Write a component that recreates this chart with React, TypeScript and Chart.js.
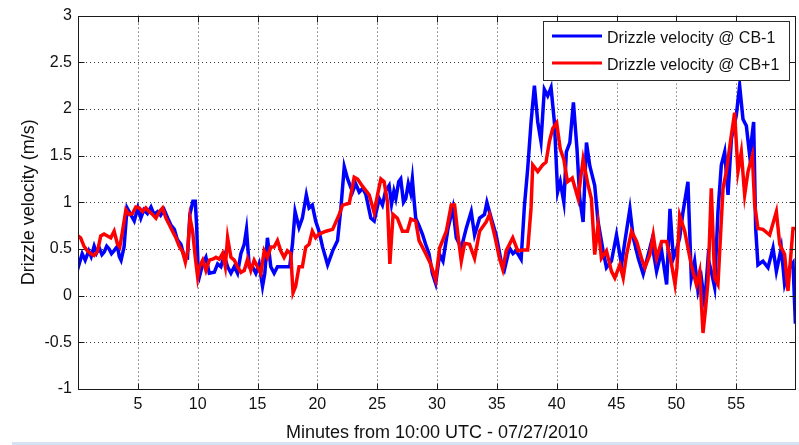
import React, { useEffect, useRef } from "react";
import { Chart, registerables } from "chart.js";

Chart.register(...registerables);

const seriesLabels = ["Drizzle velocity @ CB-1", "Drizzle velocity @ CB+1"];
const xTitle = "Minutes from 10:00 UTC - 07/27/2010";
const yTitle = "Drizzle velocity (m/s)";

const xTicks = [5, 10, 15, 20, 25, 30, 35, 40, 45, 50, 55];
const yTicks = [-1, -0.5, 0, 0.5, 1, 1.5, 2, 2.5, 3];

const blueMinutes = [
  0.0, 0.1, 0.35, 0.6, 0.9, 1.1, 1.35, 1.55, 1.75, 2.0, 2.2, 2.4, 2.6, 2.8, 3.0, 3.3, 3.45, 3.6, 3.85,
  4.1, 4.4, 4.7, 5.0, 5.25, 5.5, 5.8, 6.1, 6.35, 6.65, 6.9, 7.2, 7.5, 7.75, 8.05, 8.3, 8.6, 8.85, 9.15,
  9.35, 9.6, 9.8, 9.92, 10.05, 10.14, 10.42, 10.69, 10.97, 11.39, 11.67, 11.94, 12.22, 12.5, 12.78,
  13.06, 13.33, 13.61, 13.89, 14.08, 14.31, 14.58, 14.86, 15.14, 15.42, 15.61, 15.83, 16.11, 16.39,
  16.67, 16.94, 17.36, 17.69, 17.92, 18.14, 18.47, 18.75, 19.08, 19.31, 19.58, 19.86, 20.14, 20.44,
  20.86, 21.28, 21.69, 21.97, 22.25, 22.53, 22.94, 23.2, 23.5, 23.8, 24.06, 24.47, 24.75, 25.17, 25.44,
  25.7, 26.0, 26.2, 26.4, 26.56, 26.8, 26.97, 27.2, 27.39, 27.6, 27.8, 27.94, 28.1, 28.22, 28.5, 28.78,
  29.05, 29.33, 29.61, 29.89, 30.22, 30.5, 30.92, 31.33, 31.61, 32.03, 32.44, 32.86, 33.14, 33.56,
  33.97, 34.17, 34.53, 34.94, 35.36, 35.64, 36.06, 36.35, 36.61, 37.03, 37.31, 37.58, 37.86, 38.14,
  38.42, 38.69, 38.97, 39.25, 39.53, 39.81, 40.08, 40.3, 40.6, 40.81, 41.1, 41.4, 41.7, 41.93, 42.21,
  42.49, 42.77, 43.18, 43.46, 43.88, 44.16, 44.58, 45.0, 45.42, 45.7, 46.12, 46.4, 46.82, 47.23, 47.51,
  47.93, 48.35, 48.77, 49.19, 49.47, 49.75, 50.03, 50.28, 50.56, 50.97, 51.25, 51.53, 51.81, 52.09,
  52.37, 52.65, 52.92, 53.2, 53.48, 53.76, 54.04, 54.32, 54.6, 55.01, 55.29, 55.57, 55.85, 56.13,
  56.46, 56.63, 56.82, 57.24, 57.66, 58.08, 58.36, 58.77, 59.05, 59.47, 59.75, 59.95,
];
const blueVelocity = [
  0.4, 0.34, 0.45, 0.38, 0.48, 0.42, 0.53, 0.46, 0.52, 0.44, 0.47, 0.53, 0.5, 0.45, 0.48, 0.53, 0.42, 0.38, 0.52,
  0.94, 0.87, 0.8, 0.94, 0.83, 0.92, 0.88, 0.95, 0.87, 0.9, 0.86, 0.92, 0.83, 0.76, 0.71, 0.6, 0.55, 0.43, 0.41,
  0.87, 1.01, 1.01, 0.73, 0.24, 0.2, 0.34, 0.41, 0.24, 0.25, 0.34, 0.31, 0.43, 0.31, 0.24,
  0.31, 0.24, 0.45, 0.55, 0.71, 0.31, 0.31, 0.24, 0.34, 0.1, 0.24, 0.62, 0.31, 0.24,
  0.31, 0.31, 0.31, 0.31, 0.55, 0.9, 0.73, 0.83, 1.08, 0.94, 0.97, 0.8, 0.69, 0.52,
  0.33, 0.48, 0.59, 0.94, 1.38, 1.25, 1.11, 1.2, 1.11, 1.15, 1.08, 0.83, 0.8, 1.04, 0.97,
  1.12, 1.18, 0.98, 1.12, 1.04, 1.22, 1.25, 1.0, 1.04, 1.2, 1.1, 1.25, 1.0, 0.83, 0.75, 0.66,
  0.55, 0.45, 0.24, 0.13, 0.44, 0.37, 0.72, 0.94, 0.62, 0.51, 0.72, 0.9, 0.65, 0.83,
  0.87, 1.0, 0.83, 0.65, 0.37, 0.28, 0.51, 0.45, 0.48, 0.39, 0.97, 1.36, 1.86, 2.25,
  1.86, 1.65, 2.21, 2.14, 2.23, 1.86, 1.11, 1.22, 1.0, 1.54, 1.64, 2.07, 1.57, 1.04, 0.79,
  1.64, 1.39, 1.18, 0.79, 0.48, 0.3, 0.37, 0.65, 0.33, 0.58, 0.93, 0.62, 0.4, 0.23, 0.37,
  0.58, 0.26, 0.48, 0.12, 0.93, 0.4, 0.5, 0.62, 0.9, 1.22, 0.19, 0.37, 0.05, 0.19,
  -0.09, 0.4, 0.26, 0.09, 0.9, 1.4, 1.54, 1.08, 1.68, 1.93, 2.25, 1.89, 1.82, 1.5,
  1.86, 0.72, 0.33, 0.37, 0.3, 0.51, 0.26, 0.51, 0.12, 0.3, 0.35, -0.3,
];

const redMinutes = [
  0.0, 0.22, 0.5, 0.78, 1.06, 1.34, 1.62, 1.9, 2.18, 2.46, 2.74, 3.02, 3.3, 3.49, 3.72, 4.0, 4.27, 4.55,
  4.83, 5.11, 5.39, 5.67, 5.95, 6.23, 6.51, 6.79, 7.07, 7.35, 7.63, 7.9, 8.18, 8.46, 8.74, 8.97, 9.16,
  9.36, 9.58, 9.8, 10.0, 10.14, 10.42, 10.69, 10.97, 11.25, 11.53, 11.81, 12.08, 12.31, 12.5, 12.78,
  13.06, 13.33, 13.61, 13.89, 14.17, 14.44, 14.72, 15.0, 15.28, 15.56, 15.83, 16.11, 16.39, 16.67,
  16.94, 17.22, 17.5, 17.78, 17.97, 18.19, 18.47, 18.75, 19.03, 19.31, 19.58, 19.86, 20.14, 20.72,
  21.28, 21.83, 22.11, 22.67, 23.08, 23.36, 23.78, 24.33, 24.75, 25.03, 25.31, 25.58, 25.86, 26.06,
  26.33, 26.69, 27.11, 27.53, 27.81, 28.22, 28.5, 29.06, 29.47, 29.89, 30.22, 30.78, 31.19, 31.47,
  31.75, 32.03, 32.31, 32.72, 33.14, 33.56, 34.11, 34.39, 34.81, 35.22, 35.5, 35.78, 36.33, 36.75,
  37.17, 37.58, 37.86, 38.0, 38.42, 38.83, 39.11, 39.39, 39.67, 40.0, 40.3, 40.6, 40.9, 41.3, 41.79,
  42.21, 42.63, 42.9, 43.18, 43.46, 43.74, 44.16, 44.58, 44.86, 45.28, 45.56, 45.84, 46.26, 46.68,
  47.09, 47.37, 47.79, 48.07, 48.35, 48.77, 49.19, 49.61, 49.89, 50.05, 50.28, 50.7, 51.25, 51.67,
  51.95, 52.23, 52.45, 52.65, 52.92, 53.2, 53.48, 53.9, 54.18, 54.6, 54.87, 55.15, 55.43, 55.71,
  55.99, 56.35, 56.55, 56.82, 57.24, 57.8, 58.36, 58.64, 59.05, 59.33, 59.75, 59.95,
];
const redVelocity = [
  0.64, 0.62, 0.53, 0.48, 0.45, 0.43, 0.47, 0.64, 0.66, 0.64, 0.62, 0.69, 0.55, 0.52, 0.69, 0.92, 0.87, 0.88,
  0.95, 0.94, 0.9, 0.94, 0.9, 0.87, 0.83, 0.9, 0.94, 0.83, 0.76, 0.69, 0.62, 0.53, 0.47, 0.36, 0.48,
  0.83, 0.69, 0.41, 0.2, 0.31, 0.38, 0.27, 0.38, 0.39, 0.41, 0.39, 0.45, 0.31, 0.62, 0.41,
  0.38, 0.31, 0.25, 0.27, 0.39, 0.27, 0.38, 0.31, 0.24, 0.48, 0.41, 0.52, 0.52, 0.59,
  0.48, 0.41, 0.48, 0.45, 0.03, 0.1, 0.31, 0.31, 0.52, 0.55, 0.69, 0.62, 0.66, 0.69,
  0.71, 0.87, 0.97, 0.99, 1.27, 1.25, 1.17, 1.08, 0.89, 1.08, 1.25, 1.22, 1.0, 0.34,
  0.87, 0.83, 0.69, 0.69, 0.82, 0.8, 0.59, 0.45, 0.34, 0.17, 0.51, 0.69, 0.97, 0.97,
  0.65, 0.37, 0.56, 0.55, 0.4, 0.69, 0.79, 0.87, 0.65, 0.4, 0.28, 0.48, 0.62, 0.48,
  0.49, 0.49, 0.94, 1.4, 1.33, 1.4, 1.43, 1.65, 1.79, 1.85, 1.57, 1.46, 1.22, 1.26, 1.04,
  1.46, 1.18, 1.04, 0.44, 0.76, 0.4, 0.48, 0.26, 0.19, 0.33, 0.19, 0.44, 0.69, 0.58,
  0.4, 0.3, 0.44, 0.65, 0.4, 0.58, 0.58, 0.33, 0.12, 0.3, 0.86, 0.69, 0.33, 0.12,
  0.26, -0.4, -0.13, 0.16, 1.15, 0.19, 0.12, 1.15, 1.33, 1.72, 1.96, 1.33, 1.54, 1.08,
  1.33, 1.5, 0.97, 0.72, 0.71, 0.65, 0.9, 0.55, 0.44, 0.05, 0.72, 0.72,
];

const FONT = "'Liberation Sans', Arial, Helvetica, sans-serif";
const TEXT = "#111111";
const AXIS = "#1a1a1a";

const frame = {
  id: "matlabFrame",
  beforeDatasetsDraw(chart: any) {
    const { ctx, chartArea, scales } = chart;
    const { left, right, top, bottom } = chartArea;
    ctx.save();
    ctx.strokeStyle = "#3a3a3a";
    ctx.lineWidth = 1;
    ctx.setLineDash([1, 3]);
    xTicks.forEach((v) => {
      const px = Math.round(scales.x.getPixelForValue(v)) + 0.5;
      ctx.beginPath();
      ctx.moveTo(px, top);
      ctx.lineTo(px, bottom);
      ctx.stroke();
    });
    yTicks.forEach((v) => {
      if (v <= -1 || v >= 3) return;
      const py = Math.round(scales.y.getPixelForValue(v)) + 0.5;
      ctx.beginPath();
      ctx.moveTo(left, py);
      ctx.lineTo(right, py);
      ctx.stroke();
    });
    ctx.restore();
  },
  afterDatasetsDraw(chart: any) {
    const { ctx, chartArea, scales } = chart;
    const { left, right, top, bottom } = chartArea;
    ctx.save();
    ctx.setLineDash([]);
    ctx.strokeStyle = AXIS;
    ctx.lineWidth = 1;
    const L = Math.round(left) + 0.5;
    const R = Math.round(right) - 0.5;
    const T = Math.round(top) + 0.5;
    const B = Math.round(bottom) + 0.5;
    ctx.strokeRect(L, T, R - L, B - T);
    const tl = 6;
    ctx.beginPath();
    xTicks.forEach((v) => {
      const px = Math.round(scales.x.getPixelForValue(v)) + 0.5;
      ctx.moveTo(px, B);
      ctx.lineTo(px, B - tl);
      ctx.moveTo(px, T);
      ctx.lineTo(px, T + tl);
    });
    yTicks.forEach((v) => {
      const py = Math.round(scales.y.getPixelForValue(v)) + 0.5;
      ctx.moveTo(L, py);
      ctx.lineTo(L + tl, py);
      ctx.moveTo(R, py);
      ctx.lineTo(R - tl, py);
    });
    ctx.stroke();

    // legend
    const lx = 543.5, ly = 21.5, lw = 246, lh = 59;
    ctx.fillStyle = "#ffffff";
    ctx.fillRect(lx, ly, lw, lh);
    ctx.strokeStyle = "#2a2a2a";
    ctx.strokeRect(lx, ly, lw, lh);
    const colors = ["#0000ff", "#ff0000"];
    ctx.font = `16px ${FONT}`;
    ctx.textBaseline = "middle";
    ctx.textAlign = "left";
    seriesLabels.forEach((label, i) => {
      const rowY = 39 + i * 27;
      ctx.strokeStyle = colors[i];
      ctx.lineWidth = 3;
      ctx.beginPath();
      ctx.moveTo(552, rowY - 3);
      ctx.lineTo(602, rowY - 3);
      ctx.stroke();
      ctx.fillStyle = TEXT;
      ctx.fillText(label, 607, rowY);
    });

    // axis titles
    ctx.fillStyle = TEXT;
    ctx.font = `18px ${FONT}`;
    ctx.textAlign = "center";
    ctx.textBaseline = "alphabetic";
    ctx.fillText(xTitle, (left + right) / 2, 438);
    ctx.translate(34, (top + bottom) / 2);
    ctx.rotate(-Math.PI / 2);
    ctx.fillText(yTitle, 0, 0);
    ctx.restore();
  },
};

export default function App() {
  const ref = useRef<HTMLCanvasElement | null>(null);

  useEffect(() => {
    document.body.style.margin = "0";
    const canvas = ref.current;
    if (!canvas) return;
    const chart = new Chart(canvas, {
      type: "line",
      data: {
        datasets: [
          {
            label: seriesLabels[0],
            data: blueMinutes.map((m, i) => ({ x: m, y: blueVelocity[i] })),
            borderColor: "#0000ff",
            backgroundColor: "#0000ff",
            borderWidth: 3.5,
            pointRadius: 0,
            tension: 0,
            fill: false,
            order: 2,
          },
          {
            label: seriesLabels[1],
            data: redMinutes.map((m, i) => ({ x: m, y: redVelocity[i] })),
            borderColor: "#ff0000",
            backgroundColor: "#ff0000",
            borderWidth: 3.5,
            pointRadius: 0,
            tension: 0,
            fill: false,
            order: 1,
          },
        ],
      },
      options: {
        animation: false,
        responsive: true,
        maintainAspectRatio: false,
        layout: { padding: { top: 13, right: 3, left: 0, bottom: 0 } },
        plugins: { legend: { display: false }, tooltip: { enabled: false } },
        scales: {
          x: {
            type: "linear",
            min: 0,
            max: 60,
            afterBuildTicks: (s: any) => {
              s.ticks = xTicks.map((v) => ({ value: v }));
            },
            afterFit: (s: any) => {
              s.height = 56;
            },
            grid: { display: false, drawTicks: false },
            border: { display: false },
            ticks: {
              autoSkip: false,
              maxRotation: 0,
              padding: 6,
              color: TEXT,
              font: { family: FONT, size: 16 },
              callback: (v: any) => String(v),
            },
          },
          y: {
            type: "linear",
            min: -1,
            max: 3,
            afterBuildTicks: (s: any) => {
              s.ticks = yTicks.map((v) => ({ value: v }));
            },
            afterFit: (s: any) => {
              s.width = 78;
            },
            grid: { display: false, drawTicks: false },
            border: { display: false },
            ticks: {
              autoSkip: false,
              padding: 6,
              color: TEXT,
              font: { family: FONT, size: 16 },
              callback: (v: any) => String(v),
            },
          },
        },
      },
      plugins: [frame],
    });
    return () => chart.destroy();
  }, []);

  return (
    <div style={{ position: "fixed", left: 0, top: 0, width: 799, height: 445, background: "#ffffff" }}>
      <div style={{ position: "absolute", left: 0, top: 0, width: 799, height: 445 }}>
        <canvas ref={ref} />
      </div>
      <div style={{ position: "absolute", left: 12, top: 442, width: 787, height: 3, background: "#d6e3f3" }} />
    </div>
  );
}
